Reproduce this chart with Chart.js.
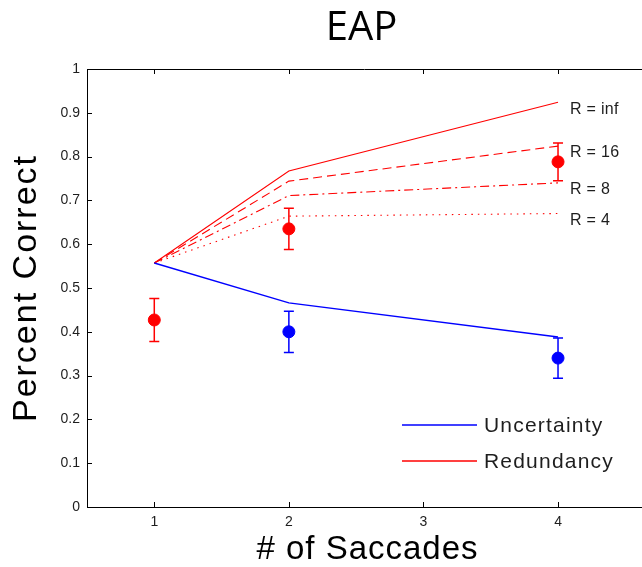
<!DOCTYPE html>
<html>
<head>
<meta charset="utf-8">
<title>EAP</title>
<script src="https://cdn.jsdelivr.net/npm/chart.js@4.4.1/dist/chart.umd.min.js"></script>
<style>
    html, body { margin: 0; padding: 0; background: #fff; overflow: hidden; }
    #wrap { width: 642px; height: 567px; position: relative; }
</style>
</head>
<body>
<div id="wrap"><canvas id="eapChart"></canvas></div>
<script>
// x values and tick labels
const saccades = [1, 2, 4];
const xTicks = [1, 2, 3, 4];
const yTicks = [0, 0.1, 0.2, 0.3, 0.4, 0.5, 0.6, 0.7, 0.8, 0.9, 1];

// model curves
const uncertaintyModel = [0.557, 0.466, 0.388];
const redundancyInf = [0.557, 0.767, 0.924];
const redundancy16 = [0.557, 0.744, 0.824];
const redundancy8 = [0.557, 0.711, 0.740];
const redundancy4 = [0.557, 0.664, 0.670];
const curveLabels = ['R = inf', 'R = 16', 'R = 8', 'R = 4'];

// observed data (mean +/- error)
const redundancyObsX = [1, 2, 4];
const redundancyObs = [0.427, 0.635, 0.788];
const redundancyErr = [0.049, 0.047, 0.043];
const uncertaintyObsX = [2, 4];
const uncertaintyObs = [0.400, 0.340];
const uncertaintyErr = [0.047, 0.046];

const RED = '#ff0000';
const BLUE = '#0000ff';
const TEXT = '#1e1e1e';
const SANS = '"Liberation Sans", Arial, sans-serif';

function toPoints(xs, ys) {
    return xs.map((x, i) => ({ x: x, y: ys[i] }));
}

const modelCurves = [redundancyInf, redundancy16, redundancy8, redundancy4];
const dashes = [[], [9, 5], [9, 4, 2, 4], [1.5, 5]];

const datasets = [
    {
        label: 'Redundancy data',
        data: toPoints(redundancyObsX, redundancyObs),
        err: redundancyErr,
        showLine: false,
        pointRadius: 6,
        pointBackgroundColor: RED,
        pointBorderColor: RED,
        borderColor: RED
    },
    {
        label: 'Uncertainty data',
        data: toPoints(uncertaintyObsX, uncertaintyObs),
        err: uncertaintyErr,
        showLine: false,
        pointRadius: 6,
        pointBackgroundColor: BLUE,
        pointBorderColor: BLUE,
        borderColor: BLUE
    },
    {
        label: 'Uncertainty',
        data: toPoints(saccades, uncertaintyModel),
        showLine: true,
        borderColor: BLUE,
        borderWidth: 1.4,
        pointRadius: 0,
        tension: 0
    }
];
modelCurves.forEach((vals, i) => {
    datasets.push({
        label: curveLabels[i],
        data: toPoints(saccades, vals),
        showLine: true,
        borderColor: RED,
        borderWidth: 1.1,
        borderDash: dashes[i],
        pointRadius: 0,
        tension: 0,
        curveLabel: curveLabels[i]
    });
});

// error bars, inward ticks, top frame, curve labels, legend, titles
const decorations = {
    id: 'decorations',
    afterDatasetsDraw(chart) {
        const ctx = chart.ctx;
        const xs = chart.scales.x;
        const ys = chart.scales.y;
        const area = chart.chartArea;
        ctx.save();

        // error bars
        chart.data.datasets.forEach(ds => {
            if (!ds.err) return;
            ctx.strokeStyle = ds.borderColor;
            ctx.lineWidth = 1.5;
            ds.data.forEach((p, i) => {
                const px = xs.getPixelForValue(p.x);
                const top = ys.getPixelForValue(p.y + ds.err[i]);
                const bot = ys.getPixelForValue(p.y - ds.err[i]);
                ctx.beginPath();
                ctx.moveTo(px, top);
                ctx.lineTo(px, bot);
                ctx.moveTo(px - 5, top);
                ctx.lineTo(px + 5, top);
                ctx.moveTo(px - 5, bot);
                ctx.lineTo(px + 5, bot);
                ctx.stroke();
            });
        });

        // frame top line and inward tick marks
        ctx.strokeStyle = '#000';
        ctx.lineWidth = 1;
        ctx.beginPath();
        ctx.moveTo(area.left, area.top + 0.5);
        ctx.lineTo(area.right, area.top + 0.5);
        yTicks.forEach(v => {
            const py = Math.round(ys.getPixelForValue(v)) + 0.5;
            ctx.moveTo(area.left, py);
            ctx.lineTo(area.left + 5, py);
        });
        xTicks.forEach(v => {
            const px = Math.round(xs.getPixelForValue(v)) + 0.5;
            ctx.moveTo(px, area.bottom);
            ctx.lineTo(px, area.bottom - 5);
            ctx.moveTo(px, area.top);
            ctx.lineTo(px, area.top + 5);
        });
        ctx.stroke();

        // curve labels next to line ends
        ctx.fillStyle = TEXT;
        ctx.font = '16px ' + SANS;
        ctx.letterSpacing = '0.3px';
        ctx.textAlign = 'left';
        ctx.textBaseline = 'top';
        chart.data.datasets.forEach(ds => {
            if (!ds.curveLabel) return;
            const last = ds.data[ds.data.length - 1];
            ctx.fillText(ds.curveLabel, xs.getPixelForValue(last.x) + 12, ys.getPixelForValue(last.y) - 1);
        });

        // legend inside lower right
        const legendItems = [['Uncertainty', BLUE], ['Redundancy', RED]];
        ctx.font = '21px ' + SANS;
        ctx.letterSpacing = '1.2px';
        ctx.textBaseline = 'middle';
        legendItems.forEach((item, i) => {
            const ly = area.bottom - 82 + i * 36;
            const lx = area.right - 240;
            ctx.strokeStyle = item[1];
            ctx.lineWidth = 1.5;
            ctx.beginPath();
            ctx.moveTo(lx, ly);
            ctx.lineTo(lx + 75, ly);
            ctx.stroke();
            ctx.fillStyle = TEXT;
            ctx.fillText(item[0], lx + 82, ly + 1);
        });

        // title and axis titles
        const cx = (area.left + area.right) / 2;
        ctx.fillStyle = '#000';
        ctx.textAlign = 'center';
        ctx.textBaseline = 'middle';
        ctx.letterSpacing = '0px';
        ctx.font = '40px "Open Sans", sans-serif';
        ctx.fillText('EAP', cx - 3, 29);

        ctx.font = '33px ' + SANS;
        ctx.letterSpacing = '1px';
        ctx.fillText('# of Saccades', cx + 3, 550);

        ctx.translate(27, (area.top + area.bottom) / 2);
        ctx.rotate(-Math.PI / 2);
        ctx.font = '34px ' + SANS;
        ctx.letterSpacing = '2px';
        ctx.fillText('Percent Correct', 0, 0);

        ctx.restore();
    }
};

new Chart(document.getElementById('eapChart'), {
    type: 'scatter',
    data: { datasets: datasets },
    options: {
        responsive: true,
        maintainAspectRatio: false,
        animation: false,
        layout: {
            autoPadding: false,
            padding: { top: 69, right: 0, left: 0, bottom: 0 }
        },
        plugins: {
            legend: { display: false },
            tooltip: { enabled: false },
            title: { display: false }
        },
        scales: {
            x: {
                type: 'linear',
                min: 0.5,
                max: 4.624,
                grid: { display: false, drawTicks: false },
                border: { display: true, color: '#000', width: 1 },
                afterBuildTicks: scale => {
                    scale.ticks = xTicks.map(v => ({ value: v }));
                },
                afterFit: scale => {
                    scale.height = 60;
                    scale.paddingRight = 0;
                    scale.paddingLeft = 0;
                },
                ticks: {
                    padding: 7,
                    color: TEXT,
                    font: { family: SANS, size: 14 },
                    maxRotation: 0,
                    callback: v => String(v)
                }
            },
            y: {
                min: 0,
                max: 1,
                grid: { display: false, drawTicks: false },
                border: { display: true, color: '#000', width: 1 },
                afterBuildTicks: scale => {
                    scale.ticks = yTicks.map(v => ({ value: v }));
                },
                afterFit: scale => { scale.width = 87; },
                ticks: {
                    padding: 7,
                    color: TEXT,
                    font: { family: SANS, size: 14 },
                    callback: v => String(Math.round(v * 10) / 10)
                }
            }
        }
    },
    plugins: [decorations]
});
</script>
</body>
</html>
